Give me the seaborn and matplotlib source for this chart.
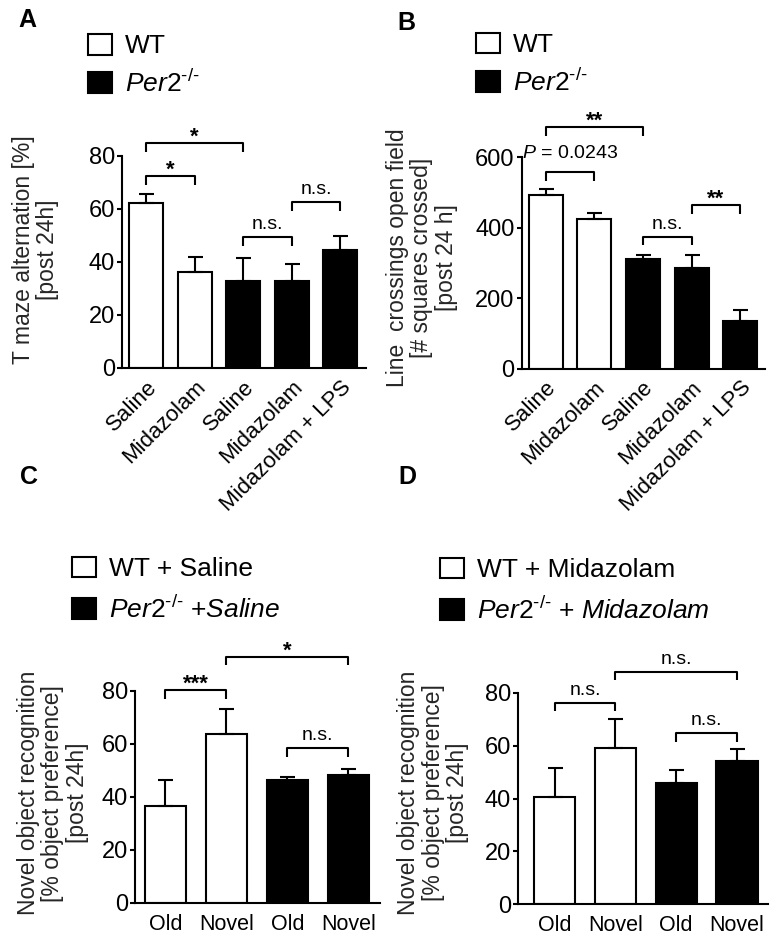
import numpy as np
import pandas as pd
import seaborn as sns
import matplotlib.pyplot as plt
from matplotlib.patches import Patch

# ---- data ----
# A: T maze alternation
a_group = ['WT', 'WT', 'Per2', 'Per2', 'Per2']
a_labels = ['Saline', 'Midazolam', 'Saline', 'Midazolam', 'Midazolam + LPS']
a_mean = [62.0, 36.0, 32.6, 32.6, 44.4]
a_sem = [3.5, 5.9, 9.0, 6.4, 5.5]
a_sig = [(0, 1, 72.3, '*'), (0, 2, 84.9, '*'), (2, 3, 49.4, 'n.s.'), (3, 4, 62.6, 'n.s.')]

# B: line crossings open field
b_group = ['WT', 'WT', 'Per2', 'Per2', 'Per2']
b_labels = ['Saline', 'Midazolam', 'Saline', 'Midazolam', 'Midazolam + LPS']
b_mean = [492, 426, 312, 285, 134]
b_sem = [17, 17, 12, 38, 33]
b_sig = [(0, 1, 559, r'$\mathit{P}$ = 0.0243'), (0, 2, 687, '**'), (2, 3, 375, 'n.s.'), (3, 4, 465, '**')]

# C: novel object recognition, saline
c_group = ['WT', 'WT', 'Per2', 'Per2']
c_labels = ['Old', 'Novel', 'Old', 'Novel']
c_mean = [36.6, 63.5, 46.3, 48.1]
c_sem = [9.8, 9.8, 1.3, 2.5]
c_sig = [(0, 1, 80.4, '***'), (1, 3, 92.9, '*'), (2, 3, 58.4, 'n.s.')]

# D: novel object recognition, midazolam
d_group = ['WT', 'WT', 'Per2', 'Per2']
d_labels = ['Old', 'Novel', 'Old', 'Novel']
d_mean = [40.7, 59.2, 46.0, 54.2]
d_sem = [10.8, 10.7, 4.6, 4.6]
d_sig = [(0, 1, 76.3, 'n.s.'), (1, 3, 88.0, 'n.s.'), (2, 3, 64.9, 'n.s.')]


def draw_panel(ax, groups, labels, means, sems, sig, ymax, yticks, width, rotate):
    keys = [f'{i}_{l}' for i, l in enumerate(labels)]
    df = pd.DataFrame({'key': keys, 'group': groups, 'mean': means})
    sns.barplot(data=df, x='key', y='mean', hue='group', order=keys,
                palette={'WT': 'white', 'Per2': 'black'}, dodge=False,
                width=width, edgecolor='black', linewidth=1.5,
                errorbar=None, legend=False, ax=ax)
    n = len(means)
    ax.errorbar(np.arange(n), means, yerr=[np.zeros(n), sems], fmt='none',
                ecolor='black', elinewidth=1.5, capsize=5.4, capthick=1.5)

    ax.set_ylim(0, ymax)
    ax.set_yticks(yticks)
    ax.set_xlabel('')
    sns.despine(ax=ax)
    for s in ['left', 'bottom']:
        ax.spines[s].set_linewidth(1.5)
    ax.tick_params(axis='y', length=3.6, width=1.5, labelsize=17, pad=1.5)
    ax.tick_params(axis='x', length=0, labelsize=16 if rotate else 15.5, pad=6 if rotate else 8)
    if rotate:
        ax.set_xticks(range(n), labels, rotation=45, ha='right', rotation_mode='anchor')
    else:
        ax.set_xticks(range(n), labels)

    # significance brackets
    drop = ymax * 0.042
    for i, j, y, txt in sig:
        ax.plot([i, i, j, j], [y - drop, y, y, y - drop], color='black', lw=1.5,
                clip_on=False, solid_capstyle='butt')
        star = txt.startswith('*')
        off = 0 if star else (10 if txt.startswith('$') else 5.5)
        ax.annotate(txt, xy=((i + j) / 2, y), xytext=(0, off), textcoords='offset points',
                    ha='center', va='baseline', annotation_clip=False,
                    fontsize=16 if star else 14, fontweight='bold' if star else 'normal')


def add_legend(fig, labels, x, y, spacing):
    handles = [Patch(facecolor='white', edgecolor='black', linewidth=1.5),
               Patch(facecolor='black', edgecolor='black', linewidth=1.5)]
    fig.legend(handles, labels, loc='upper left', bbox_to_anchor=(x / 778, 1 - y / 943),
               bbox_transform=fig.transFigure, frameon=False, fontsize=19,
               borderpad=0, borderaxespad=0, handlelength=0.91, handleheight=0.82,
               handletextpad=0.5, labelspacing=spacing)


if __name__ == '__main__':
    sns.set_theme(style='ticks')
    plt.rcParams['font.family'] = ['Liberation Sans', 'DejaVu Sans']
    plt.rcParams['mathtext.fontset'] = 'custom'
    plt.rcParams['mathtext.rm'] = 'Liberation Sans'
    plt.rcParams['mathtext.it'] = 'Liberation Sans:italic'
    plt.rcParams['mathtext.bf'] = 'Liberation Sans:bold'
    plt.rcParams['text.color'] = 'black'
    plt.rcParams['axes.edgecolor'] = 'black'
    plt.rcParams['xtick.color'] = 'black'
    plt.rcParams['ytick.color'] = 'black'

    fig = plt.figure(figsize=(7.78, 9.43), dpi=100)
    ax_a = fig.add_axes([0.1568, 0.6098, 0.3136, 0.2251])
    ax_b = fig.add_axes([0.6706, 0.6090, 0.3127, 0.2242])
    ax_c = fig.add_axes([0.1735, 0.0427, 0.3149, 0.2248])
    ax_d = fig.add_axes([0.6662, 0.0410, 0.3209, 0.2244])

    draw_panel(ax_a, a_group, a_labels, a_mean, a_sem, a_sig, 80, [0, 20, 40, 60, 80], 0.7, True)
    ax_a.set_xlim(-0.5, 4.53)
    draw_panel(ax_b, b_group, b_labels, b_mean, b_sem, b_sig, 600, [0, 200, 400, 600], 0.7, True)
    ax_b.set_xlim(-0.49, 4.51)
    draw_panel(ax_c, c_group, c_labels, c_mean, c_sem, c_sig, 80, [0, 20, 40, 60, 80], 0.68, False)
    ax_c.set_xlim(-0.5, 3.52)
    draw_panel(ax_d, d_group, d_labels, d_mean, d_sem, d_sig, 80, [0, 20, 40, 60, 80], 0.68, False)
    ax_d.set_xlim(-0.6, 3.51)

    # y labels
    ylabs = [(ax_a, 'T maze alternation [%]\n[post 24h]', -0.3545, 0.556),
             (ax_b, 'Line  crossings open field\n[# squares crossed]\n[post 24 h]', -0.41, 0.524),
             (ax_c, 'Novel object recognition\n[% object preference]\n[post 24h]', -0.3347, 0.517),
             (ax_d, 'Novel object recognition\n[% object preference]\n[post 24h]', -0.3416, 0.526)]
    for ax, txt, lx, ly in ylabs:
        ax.set_ylabel(txt, fontsize=16.5, linespacing=1.1)
        ax.yaxis.set_label_coords(lx, ly)
        ax.yaxis.label.set_va('center')

    # legends
    per2 = r'$\mathit{Per2}^{\text{-/-}}$'
    add_legend(fig, ['WT', per2], 88, 34, 0.42)
    add_legend(fig, ['WT', per2], 476, 32.5, 0.45)
    add_legend(fig, ['WT + Saline', per2 + r' $\mathit{+Saline}$'], 72, 556.5, 0.55)
    add_legend(fig, ['WT + Midazolam', per2 + r' + $\mathit{Midazolam}$'], 440, 557.5, 0.55)

    # panel letters
    for letter, x, y in [('A', 18, 27), ('B', 397, 30), ('C', 20, 484), ('D', 398, 484)]:
        fig.text(x / 778, 1 - y / 943, letter, fontsize=18, fontweight='bold', va='baseline')

    plt.savefig('out.png', dpi=100)
